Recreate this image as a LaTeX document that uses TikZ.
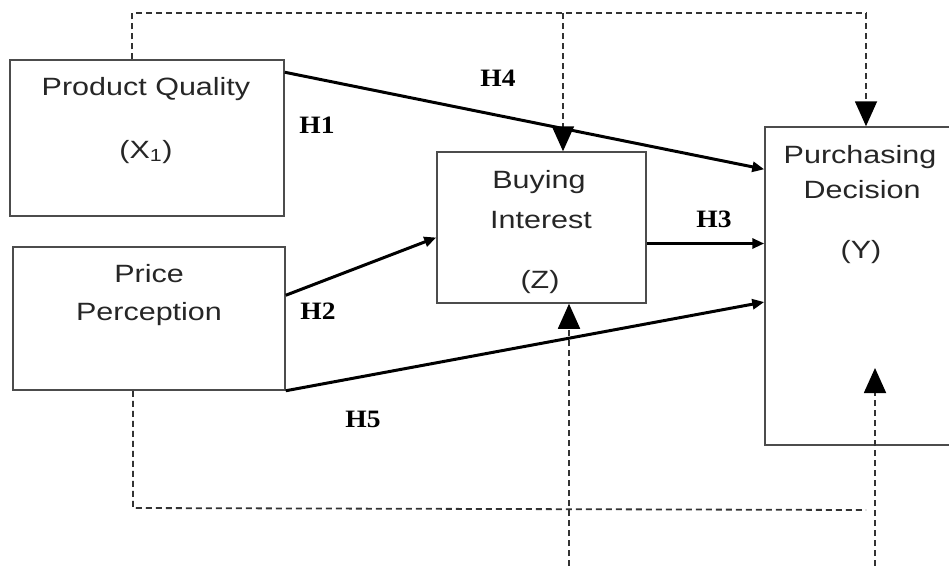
\documentclass[tikz,border=0pt]{standalone}
\usepackage{fontspec}
\setmainfont[FakeStretch=1.22]{Liberation Sans}
\newfontfamily\hypfont[FakeStretch=1.1]{Liberation Serif}
\usetikzlibrary{arrows.meta}

\begin{document}
\begin{tikzpicture}[x=1pt,y=-1pt,
                    var node/.style={draw=black!70,line width=1.5pt,inner sep=0pt},
                    var text/.style={anchor=base,text=black!85,font=\fontsize{25}{30}\selectfont},
                    hyp text/.style={anchor=base,font=\fontsize{25}{30}\selectfont\hypfont\bfseries},
                    path arrow/.style={line width=3pt,-{Triangle[length=12pt,width=10pt]}},
                    dash line/.style={draw=black!80,line width=1.8pt,dash pattern=on 6pt off 4pt},
                    dash arrow/.style={dash line,-{Triangle[length=25pt,width=22pt,color=black]}}]

       \useasboundingbox (0,0) rectangle (949,565);
       \clip (0,0) rectangle (949,565);

       \node[var node,minimum width=274pt,minimum height=156pt] (pq) at (147,138) {};
       \node[var node,minimum width=272pt,minimum height=143pt] (pp) at (149,318.5) {};
       \node[var node,minimum width=209pt,minimum height=151pt] (bi) at (541.5,227.5) {};
       \node[var node,minimum width=240pt,minimum height=318pt] (pd) at (885,286) {};

       % variable names
       \node[var text] (pq1) at (146,95) {Product Quality};
       \node[var text] (pq2) at (146,158) {(X\textsubscript{1})};
       \node[var text] (pp1) at (149,282) {Price};
       \node[var text] (pp2) at (149,320) {Perception};
       \node[var text] (bi1) at (539,188) {Buying};
       \node[var text] (bi2) at (541,228) {Interest};
       \node[var text] (bi3) at (540,288) {(Z)};
       \node[var text] (pd1) at (860,163) {Purchasing};
       \node[var text] (pd2) at (862,198) {Decision};
       \node[var text] (pd3) at (861,258) {(Y)};

       % hypotheses
       \node[hyp text] (h1) at (317,133) {H1};
       \node[hyp text] (h2) at (318,319) {H2};
       \node[hyp text] (h3) at (714,227) {H3};
       \node[hyp text] (h4) at (498,86) {H4};
       \node[hyp text] (h5) at (363,427) {H5};

       \path[path arrow]
         ([yshift=-13pt]pq.north east) edge ([yshift=-43pt]pd.north west)
         ([yshift=-49pt]pp.north east) edge ([yshift=-10pt]bi.west)
         ([yshift=-16pt]bi.east) edge ([yshift=-16pt]bi.east -| pd.west)
         (pp.south east) edge ([yshift=-16pt]pd.west);

       % dashed paths
       \coordinate (t1) at (132,13);
       \coordinate (t2) at (866,13);
       \coordinate (t3) at (563,13);
       \coordinate (b1) at (133,508);
       \coordinate (b2) at (866,510);
       \coordinate (u1) at (569,566);
       \coordinate (u2) at (875,566);
       \coordinate (u3) at (875,368);

       \draw[dash line] (t1 |- pq.north) -- (t1) -- (t2);
       \draw[dash arrow] (t2) -- (t2 |- pd.north);
       \draw[dash arrow] (t3) -- (t3 |- bi.north);
       \draw[dash line] (b1 |- pp.south) -- (b1) -- (b2);
       \draw[dash arrow] (u1) -- (u1 |- bi.south);
       \draw[dash arrow] (u2) -- (u3);
\end{tikzpicture}
\end{document}
